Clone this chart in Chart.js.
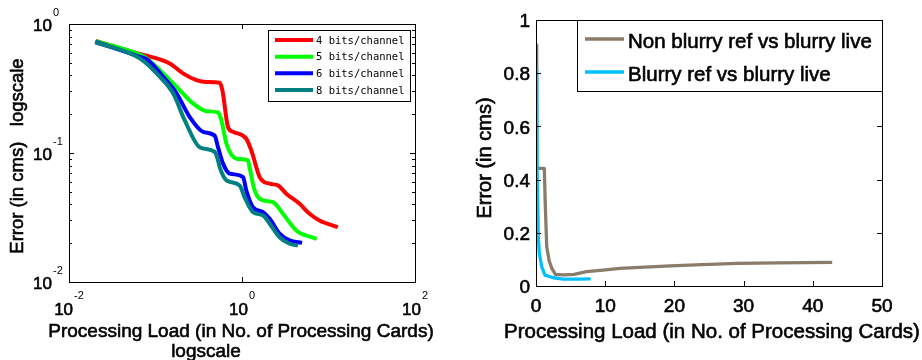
<!DOCTYPE html>
<html lang="en">
<head>
<meta charset="UTF-8" />
<title>Error vs processing load</title>
<script src="https://cdn.jsdelivr.net/npm/chart.js"></script>
<style>
  body { margin: 0; background: #fff; }
  canvas { position: absolute; top: 0; }
  #left { left: 0; }
  #right { left: 460px; }
</style>
</head>
<body>
<canvas id="left" width="460" height="360"></canvas>
<canvas id="right" width="462" height="360"></canvas>
<script>
// left plot: log-log, error vs processing load per bit depth
const bits4X = [0.0203, 0.0659, 0.146, 0.208, 0.297, 0.387, 0.552, 0.593, 0.689, 0.787, 1.12, 1.28, 1.60, 2.09, 2.60, 3.25, 4.63, 6.04, 7.87, 12.8];
const bits4Y = [0.738, 0.585, 0.495, 0.414, 0.367, 0.355, 0.350, 0.307, 0.159, 0.146, 0.129, 0.105, 0.0651, 0.0578, 0.0561, 0.0484, 0.0404, 0.0338, 0.0300, 0.0266];
const bits5X = [0.0203, 0.0659, 0.0787, 0.1225, 0.191, 0.272, 0.388, 0.528, 0.578, 0.661, 0.861, 1.17, 1.22, 1.40, 1.75, 2.28, 2.97, 4.24, 7.3];
const bits5Y = [0.736, 0.578, 0.541, 0.414, 0.307, 0.242, 0.211, 0.206, 0.179, 0.118, 0.0904, 0.0878, 0.0778, 0.0513, 0.0429, 0.0416, 0.0338, 0.0251, 0.0216];
const bits6X = [0.0203, 0.0659, 0.0815, 0.1225, 0.175, 0.249, 0.355, 0.484, 0.528, 0.604, 0.721, 1.03, 1.12, 1.34, 1.75, 2.09, 2.72, 3.55, 4.95];
const bits6Y = [0.725, 0.557, 0.525, 0.390, 0.290, 0.190, 0.146, 0.136, 0.111, 0.0827, 0.0692, 0.0651, 0.0513, 0.0380, 0.0348, 0.0309, 0.0237, 0.0210, 0.0201];
const bits8X = [0.0200, 0.0659, 0.112, 0.160, 0.218, 0.324, 0.484, 0.528, 0.552, 0.661, 0.940, 1.07, 1.34, 1.75, 2.09, 2.72, 3.55, 4.43];
const bits8Y = [0.725, 0.541, 0.390, 0.290, 0.179, 0.111, 0.102, 0.0878, 0.0778, 0.0614, 0.0561, 0.0455, 0.0348, 0.0328, 0.0283, 0.0222, 0.0198, 0.0192];
const leftLabels = ['4 bits/channel', '5 bits/channel', '6 bits/channel', '8 bits/channel'];
const leftXTicks = [0.01, 1, 100];
const leftXExp = ['-2', '0', '2'];
const leftYTicks = [1, 0.1, 0.01];
const leftYExp = ['0', '-1', '-2'];
const leftYMinor = [0.02, 0.03, 0.04, 0.05, 0.06, 0.07, 0.08, 0.09, 0.2, 0.3, 0.4, 0.5, 0.6, 0.7, 0.8, 0.9];

// right plot: linear, blurry comparison
const nonBlurX = [0.1, 0.1, 1.2, 1.35, 1.55, 1.9, 2.3, 2.8, 4.0, 5.5, 7.3, 9.7, 12.1, 15.0, 19.4, 24.0, 29.0, 35.0, 42.8];
const nonBlurY = [0.906, 0.442, 0.442, 0.30, 0.148, 0.095, 0.066, 0.044, 0.042, 0.044, 0.054, 0.060, 0.066, 0.070, 0.076, 0.080, 0.085, 0.087, 0.089];
const blurX = [0.1, 0.15, 0.33, 0.48, 0.82, 1.3, 2.5, 4.0, 6.0, 7.9];
const blurY = [0.82, 0.45, 0.185, 0.123, 0.073, 0.041, 0.031, 0.026, 0.026, 0.027];
const rightLabels = ['Non blurry ref vs blurry live', 'Blurry ref vs blurry live'];
const rightXTicks = [0, 10, 20, 30, 40, 50];
const rightYTicks = [0, 0.2, 0.4, 0.6, 0.8, 1];
const rightYTickLabels = ['0', '0.2', '0.4', '0.6', '0.8', '1'];

const xTitle = 'Processing Load (in No. of Processing Cards)';
const SANS = '"Liberation Sans", Arial, sans-serif';

const pts = (xs, ys) => xs.map((x, i) => ({ x: x, y: ys[i] }));

function line(label, xs, ys, color, width, order, smooth) {
  return {
    label: label,
    data: pts(xs, ys),
    borderColor: color,
    borderWidth: width,
    pointRadius: 0,
    tension: 0,
    cubicInterpolationMode: smooth ? 'monotone' : 'default',
    borderJoinStyle: 'round',
    fill: false,
    order: order
  };
}

function baseOptions(xType, yType, xr, yr, pad) {
  return {
    responsive: false,
    animation: false,
    layout: { padding: pad },
    plugins: { legend: { display: false }, tooltip: { enabled: false } },
    scales: {
      x: { type: xType, min: xr[0], max: xr[1], display: false },
      y: { type: yType, min: yr[0], max: yr[1], display: false }
    }
  };
}

// MATLAB-ish heavier text
function text(ctx, s, x, y) {
  ctx.fillText(s, x, y);
  ctx.strokeText(s, x, y);
}

function box(ctx, a) {
  ctx.strokeStyle = '#000';
  ctx.lineWidth = 1;
  ctx.strokeRect(Math.round(a.left) + 0.5, Math.round(a.top) + 0.5, Math.round(a.width), Math.round(a.height));
}

function tickX(ctx, a, px, len) {
  px = Math.round(px) + 0.5;
  ctx.beginPath();
  ctx.moveTo(px, a.bottom); ctx.lineTo(px, a.bottom - len);
  ctx.moveTo(px, a.top); ctx.lineTo(px, a.top + len);
  ctx.stroke();
}

function tickY(ctx, a, py, len) {
  py = Math.round(py) + 0.5;
  ctx.beginPath();
  ctx.moveTo(a.left, py); ctx.lineTo(a.left + len, py);
  ctx.moveTo(a.right, py); ctx.lineTo(a.right - len, py);
  ctx.stroke();
}

function legendBox(ctx, chart, x0, y0, x1, y1, rows, lineX0, lineX1, textX, font, lw, textDy, heavy) {
  ctx.fillStyle = '#fff';
  ctx.fillRect(x0, y0, x1 - x0, y1 - y0);
  ctx.strokeStyle = '#000';
  ctx.lineWidth = 1;
  ctx.strokeRect(x0 + 0.5, y0 + 0.5, x1 - x0, y1 - y0);
  ctx.font = font;
  ctx.textAlign = 'left';
  ctx.textBaseline = 'middle';
  chart.data.datasets.forEach((ds, i) => {
    ctx.strokeStyle = ds.borderColor;
    ctx.lineWidth = lw;
    ctx.beginPath();
    ctx.moveTo(lineX0, rows[i]);
    ctx.lineTo(lineX1, rows[i]);
    ctx.stroke();
    ctx.fillStyle = '#000';
    ctx.strokeStyle = '#000';
    ctx.lineWidth = heavy;
    if (heavy > 0) text(ctx, ds.label, textX, rows[i] + textDy);
    else ctx.fillText(ds.label, textX, rows[i] + textDy);
  });
}

const leftDecor = {
  id: 'leftDecor',
  afterDatasetsDraw(chart) {
    const { ctx, chartArea: a, scales: { x, y } } = chart;
    ctx.save();
    box(ctx, a);
    leftXTicks.forEach(v => tickX(ctx, a, x.getPixelForValue(v), 5));
    leftYTicks.forEach(v => tickY(ctx, a, y.getPixelForValue(v), 5));
    leftYMinor.forEach(v => tickY(ctx, a, y.getPixelForValue(v), 3));

    ctx.fillStyle = '#000';
    ctx.strokeStyle = '#000';
    ctx.lineWidth = 0.6;
    ctx.textBaseline = 'middle';
    const big = '17px ' + SANS, small = '11px ' + SANS;
    leftXTicks.forEach((v, i) => {
      const px = x.getPixelForValue(v);
      ctx.font = big; const wb = ctx.measureText('10').width;
      ctx.font = small; const we = ctx.measureText(leftXExp[i]).width;
      const s = px - (wb + we + 1) / 2;
      ctx.textAlign = 'left';
      ctx.font = big; text(ctx, '10', s, 310);
      ctx.font = small; ctx.fillText(leftXExp[i], s + wb + 1, 296);
    });
    leftYTicks.forEach((v, i) => {
      const py = y.getPixelForValue(v);
      ctx.font = big; ctx.textAlign = 'right'; text(ctx, '10', 52, py + 2);
      ctx.font = small; ctx.textAlign = 'left'; ctx.fillText(leftYExp[i], 53, py - 11);
    });

    ctx.font = '19px ' + SANS;
    ctx.textAlign = 'center';
    text(ctx, xTitle, 241, 332);
    text(ctx, 'logscale', 206, 352);
    ctx.save();
    ctx.translate(18, 156);
    ctx.rotate(-Math.PI / 2);
    ctx.font = '18.5px ' + SANS;
    text(ctx, 'Error (in cms)   logscale', 0, 0);
    ctx.restore();

    legendBox(ctx, chart, 268, 30, 410, 101, [40, 56.7, 73.3, 90], 275, 313, 316,
      '10.5px "DejaVu Sans Mono", monospace', 4, 1, 0);
    ctx.restore();
  }
};

const rightDecor = {
  id: 'rightDecor',
  afterDatasetsDraw(chart) {
    const { ctx, chartArea: a, scales: { x, y } } = chart;
    ctx.save();
    box(ctx, a);
    rightXTicks.forEach(v => tickX(ctx, a, x.getPixelForValue(v), 5));
    rightYTicks.forEach(v => tickY(ctx, a, y.getPixelForValue(v), 5));

    ctx.fillStyle = '#000';
    ctx.strokeStyle = '#000';
    ctx.lineWidth = 0.6;
    ctx.font = '19px ' + SANS;
    ctx.textBaseline = 'middle';
    ctx.textAlign = 'center';
    rightXTicks.forEach(v => text(ctx, String(v), x.getPixelForValue(v), 307));
    ctx.textAlign = 'right';
    rightYTicks.forEach((v, i) => text(ctx, rightYTickLabels[i], 70, y.getPixelForValue(v) + 2));

    ctx.font = '20.5px ' + SANS;
    ctx.textAlign = 'center';
    text(ctx, xTitle, 252, 332);
    ctx.save();
    ctx.translate(25, 158);
    ctx.rotate(-Math.PI / 2);
    ctx.font = '20px ' + SANS;
    text(ctx, 'Error (in cms)', 0, 0);
    ctx.restore();

    legendBox(ctx, chart, 117, 20, 422, 91, [39, 72], 125, 164, 168,
      '20.5px ' + SANS, 3.5, 3, 0.6);
    ctx.restore();
  }
};

new Chart(document.getElementById('left'), {
  type: 'line',
  data: {
    datasets: [
      line(leftLabels[0], bits4X, bits4Y, '#ff0000', 4, 3, true),
      line(leftLabels[1], bits5X, bits5Y, '#00ff00', 4, 2, true),
      line(leftLabels[2], bits6X, bits6Y, '#0000ff', 4, 1, true),
      line(leftLabels[3], bits8X, bits8Y, '#008080', 4, 0, true)
    ]
  },
  options: baseOptions('logarithmic', 'logarithmic', [0.01, 100], [0.01, 1],
    { left: 69, top: 24, right: 45, bottom: 78 }),
  plugins: [leftDecor]
});

new Chart(document.getElementById('right'), {
  type: 'line',
  data: {
    datasets: [
      line(rightLabels[0], nonBlurX, nonBlurY, '#8b7b6b', 3.3, 1, false),
      line(rightLabels[1], blurX, blurY, '#00bfff', 3.3, 0, false)
    ]
  },
  options: baseOptions('linear', 'linear', [0, 50], [0, 1],
    { left: 76, top: 20, right: 40, bottom: 74 }),
  plugins: [rightDecor]
});
</script>
</body>
</html>
